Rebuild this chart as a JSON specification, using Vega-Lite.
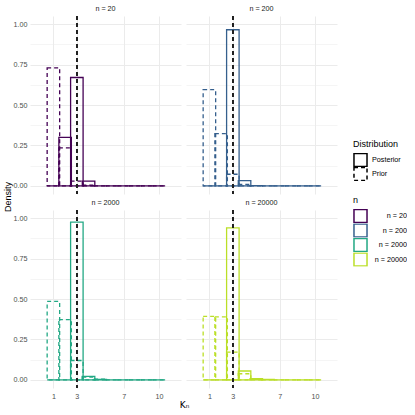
{
  "$schema": "https://vega.github.io/schema/vega-lite/v6.json",
  "padding": {"left": 3, "top": 5, "right": 0, "bottom": 0},
  "background": "white",
  "title": {"text": "Kₙ", "orient": "bottom", "anchor": "middle", "font": "DejaVu Sans", "fontSize": 9, "fontWeight": "normal", "color": "black", "offset": 2, "dx": -21},
  "data": {"values": [
    {"n": 20, "Distribution": "Posterior", "Kn": 1, "density": 0},
    {"n": 20, "Distribution": "Posterior", "Kn": 2, "density": 0.30},
    {"n": 20, "Distribution": "Posterior", "Kn": 3, "density": 0.67},
    {"n": 20, "Distribution": "Posterior", "Kn": 4, "density": 0.03},
    {"n": 20, "Distribution": "Posterior", "Kn": 5, "density": 0},
    {"n": 20, "Distribution": "Posterior", "Kn": 6, "density": 0},
    {"n": 20, "Distribution": "Posterior", "Kn": 7, "density": 0},
    {"n": 20, "Distribution": "Posterior", "Kn": 8, "density": 0},
    {"n": 20, "Distribution": "Posterior", "Kn": 9, "density": 0},
    {"n": 20, "Distribution": "Posterior", "Kn": 10, "density": 0},
    {"n": 20, "Distribution": "Prior", "Kn": 1, "density": 0.73},
    {"n": 20, "Distribution": "Prior", "Kn": 2, "density": 0.235},
    {"n": 20, "Distribution": "Prior", "Kn": 3, "density": 0.03},
    {"n": 20, "Distribution": "Prior", "Kn": 4, "density": 0.005},
    {"n": 20, "Distribution": "Prior", "Kn": 5, "density": 0},
    {"n": 20, "Distribution": "Prior", "Kn": 6, "density": 0},
    {"n": 20, "Distribution": "Prior", "Kn": 7, "density": 0},
    {"n": 20, "Distribution": "Prior", "Kn": 8, "density": 0},
    {"n": 20, "Distribution": "Prior", "Kn": 9, "density": 0},
    {"n": 20, "Distribution": "Prior", "Kn": 10, "density": 0},
    {"n": 200, "Distribution": "Posterior", "Kn": 1, "density": 0},
    {"n": 200, "Distribution": "Posterior", "Kn": 2, "density": 0},
    {"n": 200, "Distribution": "Posterior", "Kn": 3, "density": 0.965},
    {"n": 200, "Distribution": "Posterior", "Kn": 4, "density": 0.033},
    {"n": 200, "Distribution": "Posterior", "Kn": 5, "density": 0.002},
    {"n": 200, "Distribution": "Posterior", "Kn": 6, "density": 0},
    {"n": 200, "Distribution": "Posterior", "Kn": 7, "density": 0},
    {"n": 200, "Distribution": "Posterior", "Kn": 8, "density": 0},
    {"n": 200, "Distribution": "Posterior", "Kn": 9, "density": 0},
    {"n": 200, "Distribution": "Posterior", "Kn": 10, "density": 0},
    {"n": 200, "Distribution": "Prior", "Kn": 1, "density": 0.595},
    {"n": 200, "Distribution": "Prior", "Kn": 2, "density": 0.323},
    {"n": 200, "Distribution": "Prior", "Kn": 3, "density": 0.072},
    {"n": 200, "Distribution": "Prior", "Kn": 4, "density": 0.01},
    {"n": 200, "Distribution": "Prior", "Kn": 5, "density": 0},
    {"n": 200, "Distribution": "Prior", "Kn": 6, "density": 0},
    {"n": 200, "Distribution": "Prior", "Kn": 7, "density": 0},
    {"n": 200, "Distribution": "Prior", "Kn": 8, "density": 0},
    {"n": 200, "Distribution": "Prior", "Kn": 9, "density": 0},
    {"n": 200, "Distribution": "Prior", "Kn": 10, "density": 0},
    {"n": 2000, "Distribution": "Posterior", "Kn": 1, "density": 0},
    {"n": 2000, "Distribution": "Posterior", "Kn": 2, "density": 0},
    {"n": 2000, "Distribution": "Posterior", "Kn": 3, "density": 0.975},
    {"n": 2000, "Distribution": "Posterior", "Kn": 4, "density": 0.022},
    {"n": 2000, "Distribution": "Posterior", "Kn": 5, "density": 0.003},
    {"n": 2000, "Distribution": "Posterior", "Kn": 6, "density": 0},
    {"n": 2000, "Distribution": "Posterior", "Kn": 7, "density": 0},
    {"n": 2000, "Distribution": "Posterior", "Kn": 8, "density": 0},
    {"n": 2000, "Distribution": "Posterior", "Kn": 9, "density": 0},
    {"n": 2000, "Distribution": "Posterior", "Kn": 10, "density": 0},
    {"n": 2000, "Distribution": "Prior", "Kn": 1, "density": 0.485},
    {"n": 2000, "Distribution": "Prior", "Kn": 2, "density": 0.372},
    {"n": 2000, "Distribution": "Prior", "Kn": 3, "density": 0.12},
    {"n": 2000, "Distribution": "Prior", "Kn": 4, "density": 0.018},
    {"n": 2000, "Distribution": "Prior", "Kn": 5, "density": 0.005},
    {"n": 2000, "Distribution": "Prior", "Kn": 6, "density": 0},
    {"n": 2000, "Distribution": "Prior", "Kn": 7, "density": 0},
    {"n": 2000, "Distribution": "Prior", "Kn": 8, "density": 0},
    {"n": 2000, "Distribution": "Prior", "Kn": 9, "density": 0},
    {"n": 2000, "Distribution": "Prior", "Kn": 10, "density": 0},
    {"n": 20000, "Distribution": "Posterior", "Kn": 1, "density": 0},
    {"n": 20000, "Distribution": "Posterior", "Kn": 2, "density": 0},
    {"n": 20000, "Distribution": "Posterior", "Kn": 3, "density": 0.94},
    {"n": 20000, "Distribution": "Posterior", "Kn": 4, "density": 0.055},
    {"n": 20000, "Distribution": "Posterior", "Kn": 5, "density": 0.008},
    {"n": 20000, "Distribution": "Posterior", "Kn": 6, "density": 0.003},
    {"n": 20000, "Distribution": "Posterior", "Kn": 7, "density": 0},
    {"n": 20000, "Distribution": "Posterior", "Kn": 8, "density": 0},
    {"n": 20000, "Distribution": "Posterior", "Kn": 9, "density": 0},
    {"n": 20000, "Distribution": "Posterior", "Kn": 10, "density": 0},
    {"n": 20000, "Distribution": "Prior", "Kn": 1, "density": 0.393},
    {"n": 20000, "Distribution": "Prior", "Kn": 2, "density": 0.39},
    {"n": 20000, "Distribution": "Prior", "Kn": 3, "density": 0.172},
    {"n": 20000, "Distribution": "Prior", "Kn": 4, "density": 0.038},
    {"n": 20000, "Distribution": "Prior", "Kn": 5, "density": 0.007},
    {"n": 20000, "Distribution": "Prior", "Kn": 6, "density": 0},
    {"n": 20000, "Distribution": "Prior", "Kn": 7, "density": 0},
    {"n": 20000, "Distribution": "Prior", "Kn": 8, "density": 0},
    {"n": 20000, "Distribution": "Prior", "Kn": 9, "density": 0},
    {"n": 20000, "Distribution": "Prior", "Kn": 10, "density": 0}
  ]},
  "facet": {"field": "n", "type": "ordinal", "title": "Density",
    "header": {"labelExpr": "'n = ' + datum.value", "titleOrient": "left", "titleAngle": -90,
      "titleFontSize": 9, "titleFontWeight": "normal", "titleColor": "black", "titlePadding": -9, "titleFont": "Liberation Sans"}},
  "columns": 2,
  "spacing": {"column": 5, "row": 4},
  "spec": {
    "width": 151,
    "height": 178,
    "layer": [
      {
        "mark": {"type": "bar", "filled": false, "width": 12.5, "strokeWidth": 1.3},
        "encoding": {
          "x": {"field": "Kn", "type": "quantitative",
            "scale": {"domain": [-0.57, 11.46], "nice": false, "zero": false},
            "axis": {"values": [1, 2, 3, 5, 7, 8.5, 10],
              "labelExpr": "(datum.value == 1 || datum.value == 3 || datum.value == 7 || datum.value == 10) ? datum.label : ''",
              "gridWidth": {"condition": {"test": "datum.value == 1 || datum.value == 3 || datum.value == 7 || datum.value == 10", "value": 1}, "value": 0.5},
              "title": null}},
          "y": {"field": "density", "type": "quantitative",
            "scale": {"domain": [-0.05, 1.05], "nice": false, "zero": false},
            "axis": {"values": [0, 0.125, 0.25, 0.375, 0.5, 0.625, 0.75, 0.875, 1],
              "format": ".2f",
              "labelExpr": "(datum.value * 4) % 1 == 0 ? datum.label : ''",
              "gridWidth": {"condition": {"test": "(datum.value * 4) % 1 == 0", "value": 1}, "value": 0.5},
              "title": null}},
          "y2": {"datum": 0},
          "color": {"field": "n", "type": "ordinal",
            "scale": {"domain": [20, 200, 2000, 20000], "range": ["#440154", "#355F8D", "#22A884", "#BBDF27"]},
            "legend": {"title": "n", "orient": "none", "legendX": 323, "legendY": 180,
              "labelExpr": "datum.value == 20 ? 'n =  20' : 'n = ' + datum.value",
              "labelAlign": "right", "labelOffset": 39, "clipHeight": 14, "rowPadding": 0.5}},
          "strokeDash": {"field": "Distribution", "type": "nominal",
            "scale": {"domain": ["Posterior", "Prior"], "range": [[1, 0], [4, 3]]},
            "legend": {"title": "Distribution", "orient": "none", "legendX": 323, "legendY": 124,
              "symbolStrokeColor": "black", "clipHeight": 14, "rowPadding": 0}}
        }
      },
      {
        "mark": {"type": "rule", "color": "#222222", "strokeDash": [4, 3], "strokeWidth": 1},
        "encoding": {"x": {"datum": 3}}
      }
    ]
  },
  "config": {
    "view": {"stroke": null},
    "font": "Liberation Sans",
    "axis": {"domain": false, "ticks": false, "gridColor": "#EBEBEB",
      "labelColor": "#4D4D4D", "labelFontSize": 7.2, "labelFont": "Liberation Sans",
      "labelPadding": 3, "titleFontSize": 9, "titleFontWeight": "normal", "titleColor": "black",
      "titlePadding": 2},
    "header": {"labelFont": "Liberation Sans", "labelFontSize": 7.2, "labelColor": "#1A1A1A", "labelPadding": 3},
    "legend": {"titleFont": "Liberation Sans", "titleFontSize": 9, "titleFontWeight": "normal",
      "labelFont": "Liberation Sans", "labelFontSize": 7.2, "labelColor": "black",
      "symbolType": "square", "symbolSize": 170, "symbolFillColor": "white", "symbolStrokeWidth": 1.5,
      "rowPadding": 1, "titlePadding": 4}
  }
}
